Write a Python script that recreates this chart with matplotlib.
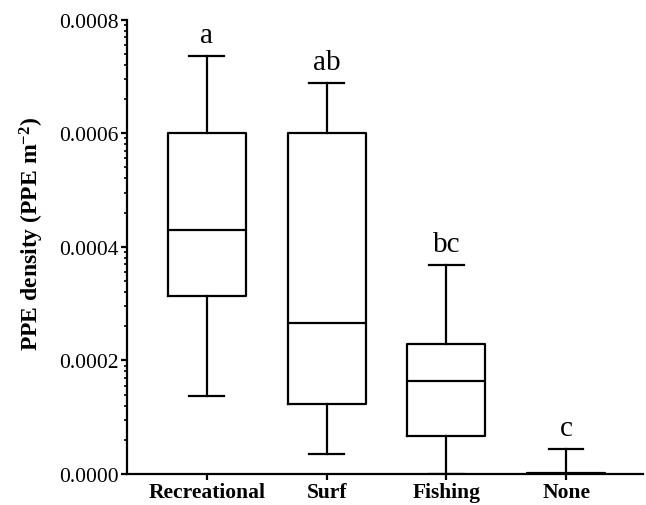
import numpy as np
import matplotlib
matplotlib.use("Agg")
import matplotlib.pyplot as plt
from matplotlib.ticker import FixedLocator, FormatStrFormatter

plt.rcParams["font.family"] = ["Liberation Serif", "DejaVu Serif"]
plt.rcParams["mathtext.fontset"] = "custom"
plt.rcParams["mathtext.rm"] = "Liberation Serif"
plt.rcParams["mathtext.bf"] = "Liberation Serif:bold"
plt.rcParams["mathtext.default"] = "bf"

# values (PPE per m2)
categories = ["Recreational", "Surf", "Fishing", "None"]
whis_low = [0.000137, 0.0000358, 0.0, 0.0]
q1 = [0.000313, 0.000123, 0.0000664, 0.0]
median = [0.000430, 0.000265, 0.000164, 0.0]
q3 = [0.000600, 0.000600, 0.000228, 0.0000015]
whis_high = [0.000736, 0.000688, 0.000368, 0.000044]
letters = ["a", "ab", "bc", "c"]

stats = []
for i in range(len(categories)):
    stats.append({
        "label": categories[i],
        "whislo": whis_low[i],
        "q1": q1[i],
        "med": median[i],
        "q3": q3[i],
        "whishi": whis_high[i],
        "fliers": [],
    })

fig = plt.figure(figsize=(6.46, 5.06), dpi=100)
ax = fig.add_axes([0.196, 0.0613, 0.799, 0.898])

lw = 1.6
positions = np.arange(1, len(categories) + 1)
ax.bxp(
    stats,
    positions=positions,
    widths=0.65,
    capwidths=0.29,
    showfliers=False,
    boxprops=dict(color="black", linewidth=lw),
    medianprops=dict(color="black", linewidth=lw),
    whiskerprops=dict(color="black", linewidth=lw),
    capprops=dict(color="black", linewidth=lw),
)

for x, top, lab in zip(positions, whis_high, letters):
    ax.annotate(lab, xy=(x, top), xytext=(0, 10), textcoords="offset points",
                ha="center", va="baseline", fontsize=21)

ax.set_xlim(0.33, 4.64)
ax.set_ylim(0, 0.0008)
ax.set_xticks(positions)
ax.set_xticklabels(categories, fontsize=15.5, fontweight="bold")
ax.set_yticks(np.arange(0, 0.00081, 0.0002))
ax.yaxis.set_major_formatter(FormatStrFormatter("%.4f"))

# uneven minor ticks like the original software draws them
minor = []
for base in np.arange(0, 0.0008, 0.0002):
    for k in range(2, 10):
        minor.append(base + np.log10(k) * 0.0002)
ax.yaxis.set_minor_locator(FixedLocator(minor))

ax.tick_params(axis="y", which="major", labelsize=15.5, length=4, width=1.6, pad=1.5)
ax.tick_params(axis="y", which="minor", length=2.5, width=1.2)
ax.tick_params(axis="x", length=4, width=1.6, pad=2)

for side in ["top", "right"]:
    ax.spines[side].set_visible(False)
for side in ["left", "bottom"]:
    ax.spines[side].set_linewidth(1.6)

ax.set_ylabel("PPE density (PPE m$^{-2}$)", fontsize=17, fontweight="bold")
ax.yaxis.set_label_coords(-0.157, 0.53)

fig.savefig("out.png", dpi=100)
